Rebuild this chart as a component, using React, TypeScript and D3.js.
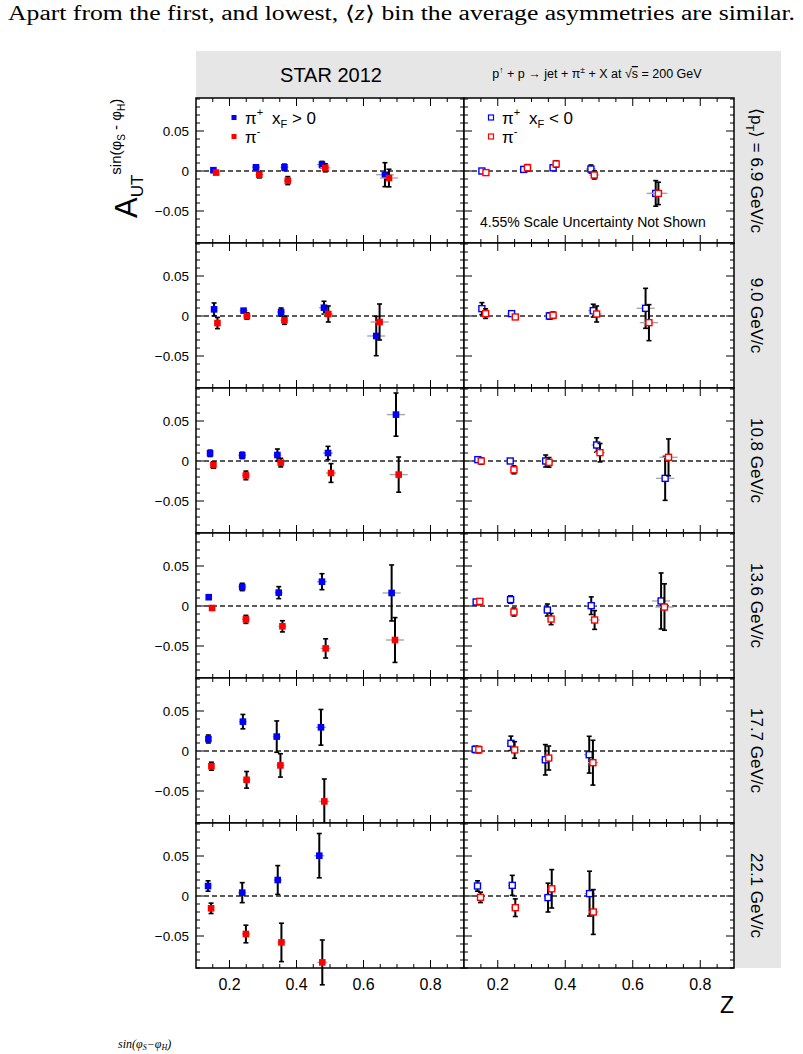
import React from 'react';
import * as d3 from 'd3';

// ==== data

const ptLabels = ['6.9', '9.0', '10.8', '13.6', '17.7', '22.1'];

// x_F > 0, pi+
const zPlusF = [
    [0.152, 0.279, 0.364, 0.476, 0.664],
    [0.154, 0.242, 0.354, 0.482, 0.638],
    [0.142, 0.238, 0.343, 0.494, 0.697],
    [0.138, 0.238, 0.347, 0.476, 0.684],
    [0.137, 0.240, 0.341, 0.473],
    [0.136, 0.238, 0.344, 0.468],
];
const aPlusF = [
    [0.001, 0.0046, 0.0046, 0.008, -0.0046],
    [0.0083, 0.0067, 0.005, 0.0104, -0.025],
    [0.0096, 0.007, 0.0075, 0.01, 0.058],
    [0.011, 0.0238, 0.0167, 0.0304, 0.0163],
    [0.015, 0.0367, 0.018, 0.0296],
    [0.0125, 0.0042, 0.02, 0.0504],
];
const ePlusF = [
    [0.002, 0.003, 0.004, 0.004, 0.015],
    [0.008, 0.002, 0.005, 0.008, 0.0246],
    [0.004, 0.004, 0.0075, 0.0083, 0.027],
    [0.001, 0.0046, 0.0075, 0.01, 0.035],
    [0.005, 0.009, 0.0196, 0.0223],
    [0.0065, 0.0125, 0.018, 0.0277],
];

// x_F > 0, pi-
const zMinusF = [
    [0.160, 0.289, 0.374, 0.486, 0.676],
    [0.164, 0.252, 0.364, 0.495, 0.648],
    [0.152, 0.249, 0.353, 0.503, 0.705],
    [0.148, 0.249, 0.358, 0.487, 0.694],
    [0.146, 0.251, 0.352, 0.483],
    [0.145, 0.249, 0.355, 0.477],
];
const aMinusF = [
    [-0.002, -0.0046, -0.012, 0.004, -0.0088],
    [-0.0088, 0, -0.0054, 0.0025, -0.0075],
    [-0.005, -0.018, -0.002, -0.015, -0.017],
    [-0.0025, -0.0167, -0.0254, -0.053, -0.0425],
    [-0.019, -0.036, -0.018, -0.063],
    [-0.0154, -0.0475, -0.058, -0.083],
];
const eMinusF = [
    [0.002, 0.004, 0.005, 0.005, 0.011],
    [0.007, 0.004, 0.005, 0.01, 0.0225],
    [0.004, 0.0054, 0.0054, 0.0117, 0.022],
    [0.001, 0.005, 0.007, 0.012, 0.028],
    [0.005, 0.0104, 0.0146, 0.028],
    [0.0065, 0.011, 0.024, 0.028],
];

// x_F < 0, pi+
const zPlusB = [
    [0.153, 0.277, 0.364, 0.476, 0.668],
    [0.153, 0.241, 0.353, 0.483, 0.638],
    [0.141, 0.237, 0.342, 0.493, 0.696],
    [0.136, 0.238, 0.347, 0.477, 0.684],
    [0.133, 0.239, 0.341, 0.471],
    [0.140, 0.243, 0.349, 0.472],
];
const aPlusB = [
    [0, 0.002, 0.004, 0.0025, -0.028],
    [0.0092, 0.003, 0, 0.0067, 0.0096],
    [0.0017, 0, 0, 0.02, -0.0217],
    [0.005, 0.008, -0.005, 0.0004, 0.0063],
    [0.002, 0.0096, -0.011, -0.0046],
    [0.0125, 0.0133, -0.002, 0.003],
];
const ePlusB = [
    [0.002, 0.003, 0.003, 0.005, 0.016],
    [0.0075, 0.002, 0.004, 0.008, 0.025],
    [0.003, 0.002, 0.0075, 0.009, 0.0275],
    [0.001, 0.0046, 0.0075, 0.011, 0.035],
    [0.004, 0.009, 0.019, 0.023],
    [0.0065, 0.0125, 0.018, 0.028],
];

// x_F < 0, pi-
const zMinusB = [
    [0.165, 0.288, 0.373, 0.486, 0.676],
    [0.164, 0.252, 0.364, 0.493, 0.648],
    [0.151, 0.248, 0.352, 0.503, 0.706],
    [0.147, 0.248, 0.358, 0.487, 0.694],
    [0.144, 0.250, 0.351, 0.482],
    [0.149, 0.252, 0.360, 0.483],
];
const aMinusB = [
    [-0.002, 0.004, 0.0088, -0.005, -0.028],
    [0.003, -0.0012, 0.001, 0.0025, -0.0083],
    [0, -0.011, -0.0017, 0.0104, 0.0046],
    [0.0058, -0.0075, -0.0163, -0.0175, -0.0013],
    [0.0017, 0.0013, -0.0088, -0.0146],
    [-0.0017, -0.0146, 0.009, -0.02],
];
const eMinusB = [
    [0.002, 0.004, 0.004, 0.005, 0.014],
    [0.006, 0.002, 0.004, 0.01, 0.0225],
    [0.004, 0.005, 0.006, 0.0115, 0.023],
    [0.001, 0.005, 0.007, 0.0117, 0.029],
    [0.004, 0.0104, 0.015, 0.028],
    [0.0065, 0.011, 0.024, 0.028],
];

// gray horizontal bars, by z bin
const zBinHalf = [0.008, 0.012, 0.012, 0.015, 0.027];

const xTicksMajor = [0.2, 0.4, 0.6, 0.8];
const yTicksMajor = [-0.05, 0, 0.05];

// ==== layout

const FONT = 'Liberation Sans, Arial, Helvetica, sans-serif';
const colX = [196, 464];
const colW = [268, 270];
const rowTop = 98;
const rowH = 145;
const bandR = 781;

const BLUE = '#0000ff';
const RED = '#ff0000';

function Series({ x, y, zs, as, es, color, open }) {
    return (
        <g>
            {zs.map((z, i) => {
                const cx = x(z);
                const cy = y(as[i]);
                const y1 = y(as[i] + es[i]);
                const y2 = y(as[i] - es[i]);
                return (
                    <g key={i}>
                        <line x1={x(z - zBinHalf[i])} x2={x(z + zBinHalf[i])} y1={cy} y2={cy} stroke="#a8a8a8" strokeWidth={1.4} />
                        <line x1={cx} x2={cx} y1={y1} y2={y2} stroke="#000" strokeWidth={2} />
                        <line x1={cx - 2.5} x2={cx + 2.5} y1={y1} y2={y1} stroke="#000" strokeWidth={1.6} />
                        <line x1={cx - 2.5} x2={cx + 2.5} y1={y2} y2={y2} stroke="#000" strokeWidth={1.6} />
                        {open
                            ? <rect x={cx - 3} y={cy - 3} width={6} height={6} fill="#fff" stroke={color} strokeWidth={1.4} />
                            : <rect x={cx - 3.3} y={cy - 3.3} width={6.6} height={6.6} fill={color} />}
                    </g>
                );
            })}
        </g>
    );
}

function Panel({ row, col }) {
    const x0 = colX[col];
    const w = colW[col];
    const top = rowTop + row * rowH;
    const x = d3.scaleLinear().domain([0.1, 0.9]).range([x0, x0 + w]);
    const y = d3.scaleLinear().domain([-0.09, 0.09125]).range([top + rowH, top]);
    const xMinor = d3.range(0.15, 0.9, 0.05).map(v => +v.toFixed(2));
    const yMinor = d3.range(-0.09, 0.0901, 0.01).map(v => +v.toFixed(2));
    const isMajX = v => xTicksMajor.some(m => Math.abs(m - v) < 1e-6);
    const isMajY = v => yTicksMajor.some(m => Math.abs(m - v) < 1e-6);
    const fwd = col === 0;

    return (
        <g>
            <rect x={x0} y={top} width={w} height={rowH} fill="#fff" />
            {xMinor.map(v => {
                const l = isMajX(v) ? 8 : 4;
                return (
                    <g key={'x' + v}>
                        <line x1={x(v)} x2={x(v)} y1={top + rowH} y2={top + rowH - l} stroke="#000" strokeWidth={1} />
                        <line x1={x(v)} x2={x(v)} y1={top} y2={top + l} stroke="#000" strokeWidth={1} />
                    </g>
                );
            })}
            {yMinor.map(v => {
                const l = isMajY(v) ? 8 : 4;
                return (
                    <g key={'y' + v}>
                        <line x1={x0} x2={x0 + l} y1={y(v)} y2={y(v)} stroke="#000" strokeWidth={1} />
                        <line x1={x0 + w} x2={x0 + w - l} y1={y(v)} y2={y(v)} stroke="#000" strokeWidth={1} />
                    </g>
                );
            })}
            <line x1={x0} x2={x0 + w} y1={y(0)} y2={y(0)} stroke="#5a5a5a" strokeWidth={2} strokeDasharray="5,3" />
            {fwd ? (
                <>
                    <Series x={x} y={y} zs={zPlusF[row]} as={aPlusF[row]} es={ePlusF[row]} color={BLUE} open={false} />
                    <Series x={x} y={y} zs={zMinusF[row]} as={aMinusF[row]} es={eMinusF[row]} color={RED} open={false} />
                </>
            ) : (
                <>
                    <Series x={x} y={y} zs={zPlusB[row]} as={aPlusB[row]} es={ePlusB[row]} color={BLUE} open={true} />
                    <Series x={x} y={y} zs={zMinusB[row]} as={aMinusB[row]} es={eMinusB[row]} color={RED} open={true} />
                </>
            )}
            <rect x={x0} y={top} width={w} height={rowH} fill="none" stroke="#000" strokeWidth={1.5} />
            {col === 0 && yTicksMajor.map(v => (
                <text key={'yl' + v} x={x0 - 7} y={y(v) + 5} textAnchor="end" fontSize={13.5} fontFamily={FONT}>
                    {v === 0 ? '0' : (v < 0 ? '\u22120.05' : '0.05')}
                </text>
            ))}
            {row === ptLabels.length - 1 && xTicksMajor.map(v => (
                <text key={'xl' + v} x={x(v)} y={top + rowH + 22} textAnchor="middle" fontSize={16} fontFamily={FONT}>
                    {v.toFixed(1)}
                </text>
            ))}
        </g>
    );
}

function Legend({ x0, open, sign }) {
    const sq = (cy, color) => open
        ? <rect x={x0 - 2.5} y={cy - 2.5} width={5} height={5} fill="#fff" stroke={color} strokeWidth={1.2} />
        : <rect x={x0 - 2.5} y={cy - 2.5} width={5} height={5} fill={color} />;
    return (
        <g fontFamily={FONT}>
            {sq(117.5, BLUE)}
            {sq(136.5, RED)}
            <text x={x0 + 11} y={124} fontSize={17}>π<tspan fontSize={11} dy={-8}>+</tspan></text>
            <text x={x0 + 11} y={143} fontSize={17}>π<tspan fontSize={11} dy={-8}>-</tspan></text>
            <text x={x0 + 38} y={124} fontSize={17}>x<tspan fontSize={11} dy={4}>F</tspan><tspan dy={-4}>{sign === '>' ? ' > 0' : ' < 0'}</tspan></text>
        </g>
    );
}

export default function App() {
    const bottom = rowTop + rowH * ptLabels.length;
    return (
        <svg width={803} height={1054} style={{ position: 'absolute', left: 0, top: 0 }}>
            <rect x={0} y={0} width={803} height={1054} fill="#fff" />
            <text x={8} y={20} fontSize={20} fontFamily="Liberation Serif, Times New Roman, serif" textLength={787} lengthAdjust="spacingAndGlyphs">
                Apart from the first, and lowest, ⟨<tspan fontStyle="italic">z</tspan>⟩ bin the average asymmetries are similar.
            </text>

            {/* header + right band */}
            <rect x={colX[0]} y={51} width={bandR - colX[0]} height={rowTop - 51} fill="#e6e6e6" />
            <rect x={colX[1] + colW[1]} y={rowTop} width={bandR - colX[1] - colW[1]} height={bottom - rowTop} fill="#e6e6e6" />
            <text x={331} y={82} textAnchor="middle" fontSize={20} fontFamily={FONT}>STAR 2012</text>
            <text x={597} y={78} textAnchor="middle" fontSize={12.5} fontFamily={FONT}>
                p<tspan fontSize={8.5} dy={-5}>↑</tspan><tspan dy={5}> + p → jet + π</tspan><tspan fontSize={8.5} dy={-5}>±</tspan><tspan dy={5}> + X at √</tspan><tspan textDecoration="overline">s</tspan> = 200 GeV
            </text>

            {ptLabels.map((_, r) => [0, 1].map(c => <Panel key={r + '-' + c} row={r} col={c} />))}

            <Legend x0={234} open={false} sign=">" />
            <Legend x0={491} open={true} sign="<" />
            <text x={480} y={227} fontSize={14} fontFamily={FONT}>4.55% Scale Uncertainty Not Shown</text>

            {/* pT labels on the right band */}
            {ptLabels.map((p, r) => (
                <text key={'pt' + r} transform={`translate(751,${rowTop + rowH * r + rowH / 2}) rotate(90)`}
                    textAnchor="middle" fontSize={17} fontFamily={FONT}>
                    {r === 0
                        ? <>⟨p<tspan fontSize={11} dy={5}>T</tspan><tspan dy={-5}>⟩ = {p} GeV/c</tspan></>
                        : `${p} GeV/c`}
                </text>
            ))}

            {/* y title */}
            <g transform="translate(137,218) rotate(-90)" fontFamily={FONT}>
                <text x={0} y={0} fontSize={31}>
                    A<tspan fontSize={17} dy={6}>UT</tspan>
                    <tspan fontSize={15} dy={-22}>sin(φ</tspan><tspan fontSize={10} dy={4}>S</tspan>
                    <tspan fontSize={15} dy={-4}> - φ</tspan><tspan fontSize={10} dy={4}>H</tspan>
                    <tspan fontSize={15} dy={-4}>)</tspan>
                </text>
            </g>

            <text x={727} y={1013} textAnchor="middle" fontSize={23} fontFamily={FONT}>Z</text>

            <text x={118} y={1048} fontSize={12} fontStyle="italic" fontFamily="Liberation Serif, serif">
                sin(φ<tspan fontSize={8} dy={2}>S</tspan><tspan dy={-2}>−φ</tspan><tspan fontSize={8} dy={2}>H</tspan><tspan dy={-2}>)</tspan>
            </text>
        </svg>
    );
}
